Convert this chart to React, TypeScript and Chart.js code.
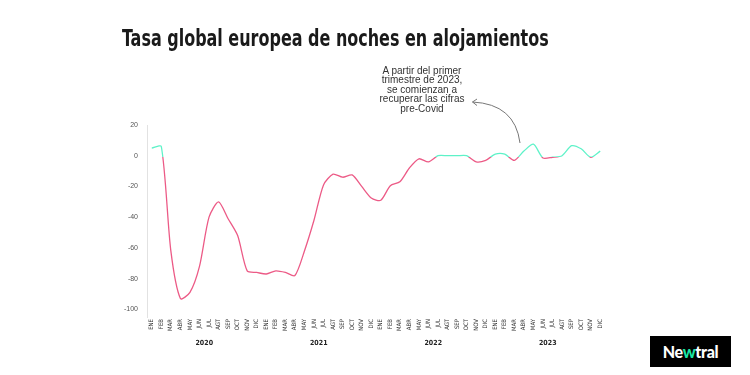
import React, { useEffect, useRef } from "react";
import { Chart, registerables } from "chart.js";

Chart.register(...registerables);

const months = ["ENE", "FEB", "MAR", "ABR", "MAY", "JUN", "JUL", "AGT", "SEP", "OCT", "NOV", "DIC"];
const years = [2020, 2021, 2022, 2023];

const values2020 = [5, 6, -62, -93, -89, -72, -40, -30, -41, -52, -75, -76];
const values2021 = [-77, -75, -76, -78, -62, -42, -19, -12, -14, -12.5, -20, -27.5];
const values2022 = [-29, -19.5, -17, -8, -2, -4, 0, 0, 0, 0, -4, -3];
const values2023 = [1, 1, -3, 3, 7.5, -1.5, -1, 0, 6.5, 4.5, -1, 3];

const yTicks = [20, 0, -20, -40, -60, -80, -100];

const PINK = "#ec5a86";
const GREEN = "#5ef2c8";
const NARROW = '"Liberation Sans Narrow", "DejaVu Sans Condensed", "Liberation Sans", Arial, sans-serif';
const SANS = '"Liberation Sans", Arial, sans-serif';
const TITLE_WIDTH = 427;

const yearLabelsPlugin = {
  id: "yearLabels",
  afterDraw(chart: any) {
    const xs = chart.scales.x;
    const c = chart.ctx;
    c.save();
    c.font = `bold 7px ${NARROW}`;
    c.fillStyle = "#222";
    c.textAlign = "center";
    c.textBaseline = "middle";
    years.forEach((yr, i) => {
      const a = xs.getPixelForValue(i * months.length);
      const b = xs.getPixelForValue(i * months.length + months.length - 1);
      c.fillText(String(yr), (a + b) / 2, 343);
    });
    c.restore();
  },
};

export default function App() {
  const ref = useRef<HTMLCanvasElement | null>(null);
  const titleRef = useRef<HTMLDivElement | null>(null);

  useEffect(() => {
    if (titleRef.current) {
      const w = titleRef.current.scrollWidth;
      if (w > 0) titleRef.current.style.transform = `scaleX(${TITLE_WIDTH / w})`;
    }
    if (!ref.current) return;
    const labels: string[] = [];
    years.forEach(() => months.forEach((m) => labels.push(m)));
    const data = [...values2020, ...values2021, ...values2022, ...values2023];

    const chart = new Chart(ref.current, {
      type: "line",
      data: {
        labels,
        datasets: [
          {
            data,
            borderWidth: 1.3,
            pointRadius: 0,
            tension: 0.25,
            fill: false,
            borderColor: (ctx: any) => {
              const ch = ctx.chart;
              const area = ch.chartArea;
              if (!area || !ch.scales.y) return PINK;
              const y0 = ch.scales.y.getPixelForValue(0) + 1;
              const g = ch.ctx.createLinearGradient(0, area.top, 0, area.bottom);
              const s = Math.min(1, Math.max(0, (y0 - area.top) / (area.bottom - area.top)));
              g.addColorStop(0, GREEN);
              g.addColorStop(s, GREEN);
              g.addColorStop(s, PINK);
              g.addColorStop(1, PINK);
              return g;
            },
          },
        ],
      },
      options: {
        animation: false,
        responsive: false,
        maintainAspectRatio: false,
        layout: { padding: { top: 125, right: 145, left: 0, bottom: 0 } },
        plugins: { legend: { display: false }, tooltip: { enabled: false } },
        scales: {
          x: {
            type: "category",
            offset: true,
            grid: { display: false, drawTicks: false },
            border: { display: false },
            ticks: {
              autoSkip: false,
              maxRotation: 90,
              minRotation: 90,
              padding: 2,
              color: "#333",
              font: { family: NARROW, size: 6 },
            },
            afterFit: (s: any) => {
              s.height = 58;
            },
          },
          y: {
            min: -105,
            max: 20,
            grid: { display: false, drawTicks: false },
            border: { display: true, color: "#e2e2e2", width: 1 },
            ticks: {
              stepSize: 20,
              padding: 9,
              color: "#555",
              font: { family: SANS, size: 7 },
            },
            afterBuildTicks: (s: any) => {
              s.ticks = yTicks.map((v) => ({ value: v }));
            },
            afterFit: (s: any) => {
              s.width = 147;
            },
          },
        },
      },
      plugins: [yearLabelsPlugin],
    } as any);
    return () => chart.destroy();
  }, []);

  return (
    <div style={{ position: "fixed", left: 0, top: 0, width: 750, height: 375, background: "#fff", overflow: "hidden" }}>
      <canvas ref={ref} width={750} height={375} style={{ position: "absolute", left: 0, top: 0, width: 750, height: 375 }} />
      <div
        ref={titleRef}
        style={{
          position: "absolute",
          left: 122,
          top: 27,
          fontFamily: NARROW,
          fontWeight: "bold",
          fontSize: 23,
          lineHeight: "23px",
          color: "#1a1a1a",
          whiteSpace: "nowrap",
          transformOrigin: "0 0",
        }}
      >
        Tasa global europea de noches en alojamientos
      </div>
      <div
        style={{
          position: "absolute",
          left: 361,
          width: 122,
          top: 66,
          textAlign: "center",
          fontFamily: SANS,
          fontSize: 10,
          lineHeight: "9.4px",
          color: "#333",
        }}
      >
        A partir del primer
        <br />
        trimestre de 2023,
        <br />
        se comienzan a
        <br />
        recuperar las cifras
        <br />
        pre-Covid
      </div>
      <svg width={750} height={375} style={{ position: "absolute", left: 0, top: 0, pointerEvents: "none" }}>
        <path d="M520 143 Q515 104 472.5 102" fill="none" stroke="#777" strokeWidth={1} />
        <path d="M477 99 L472.5 102 L477 105.5" fill="none" stroke="#777" strokeWidth={1} />
      </svg>
      <div
        style={{
          position: "absolute",
          left: 650,
          top: 336,
          width: 81,
          height: 31,
          background: "#000",
          color: "#fff",
          fontFamily: '"Lato", "Liberation Sans", Arial, sans-serif',
          fontWeight: 900,
          fontSize: 16,
          lineHeight: "31px",
          textAlign: "center",
          letterSpacing: -0.3,
        }}
      >
        Ne<span style={{ color: "#19e6a5" }}>w</span>tral
      </div>
    </div>
  );
}
